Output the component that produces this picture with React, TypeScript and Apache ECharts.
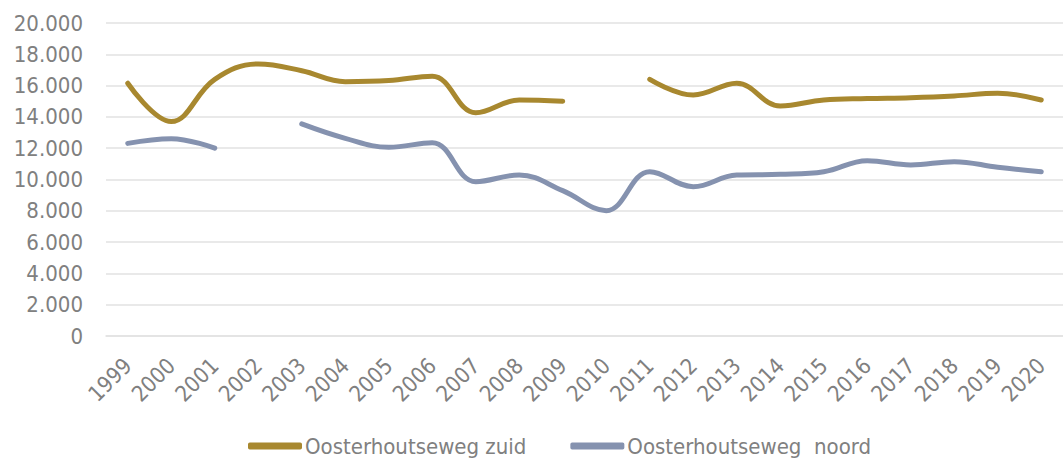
import React, { useEffect, useRef } from "react";
import * as echarts from "echarts";

const years = ["1999","2000","2001","2002","2003","2004","2005","2006","2007","2008","2009","2010","2011","2012","2013","2014","2015","2016","2017","2018","2019","2020"];
const zuid: (number | null)[] = [16150, 13700, 16400, 17380, 16950, 16250, 16320, 16600, 14270, 15080, 15000, null, 16400, 15400, 16150, 14700, 15080, 15170, 15230, 15340, 15510, 15080];
const noord: (number | null)[] = [12310, 12610, 12000, null, 13550, 12630, 12060, 12350, 9860, 10290, 9290, 8010, 10500, 9540, 10290, 10330, 10500, 11200, 10930, 11140, 10780, 10500];
const seriesNames = ["Oosterhoutseweg zuid", "Oosterhoutseweg  noord"];
const yTicks = { min: 0, max: 20000, interval: 2000 };

const FONT = "'DejaVu Sans Condensed', 'Liberation Sans Narrow', sans-serif";
const GOLD = "#A8882F";
const BLUE = "#8592AF";
const TEXT = "#808080";

export default function App() {
  const ref = useRef<HTMLDivElement>(null);
  useEffect(() => {
    if (!ref.current) return;
    const chart = echarts.init(ref.current, undefined, { renderer: "svg" });
    chart.setOption({
      animation: false,
      backgroundColor: "#ffffff",
      grid: { left: 106, top: 23, width: 966, bottom: 124, containLabel: false },
      legend: {
        bottom: 3,
        left: 248,
        padding: 0,
        itemWidth: 54,
        itemHeight: 7,
        itemGap: 44,
        icon: "roundRect",
        textStyle: { fontFamily: FONT, fontSize: 22, color: TEXT, padding: [0, 0, 0, -2] },
        data: seriesNames,
      },
      xAxis: {
        type: "category",
        data: years,
        boundaryGap: true,
        axisLine: { show: true, lineStyle: { color: "#e2e2e2", width: 1.5 } },
        axisTick: { show: false },
        axisLabel: { rotate: 45, margin: 26, fontFamily: FONT, fontSize: 22, color: TEXT, interval: 0 },
      },
      yAxis: {
        type: "value",
        min: yTicks.min,
        max: yTicks.max,
        interval: yTicks.interval,
        axisLine: { show: false },
        axisTick: { show: false },
        splitLine: { lineStyle: { color: "#e2e2e2", width: 1.5 } },
        axisLabel: {
          margin: 23,
          fontFamily: FONT,
          fontSize: 22,
          color: TEXT,
          formatter: (v: number) => v.toLocaleString("de-DE"),
        },
      },
      series: [
        {
          name: seriesNames[0],
          type: "line",
          data: zuid,
          smooth: 0.4,
          symbol: "none",
          connectNulls: false,
          itemStyle: { color: GOLD },
          lineStyle: { color: GOLD, width: 5, cap: "round", join: "round" },
        },
        {
          name: seriesNames[1],
          type: "line",
          data: noord,
          smooth: 0.4,
          symbol: "none",
          connectNulls: false,
          itemStyle: { color: BLUE },
          lineStyle: { color: BLUE, width: 5, cap: "round", join: "round" },
        },
      ],
    });
    return () => chart.dispose();
  }, []);
  return <div ref={ref} style={{ position: "fixed", left: 0, top: 0, width: 1063, height: 460 }} />;
}
